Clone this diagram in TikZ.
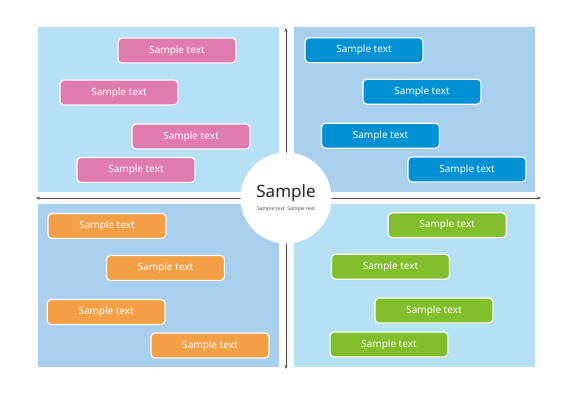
\documentclass[tikz,border=0pt]{standalone}
\usepackage{fontspec}
\setmainfont{Noto Sans}
\usetikzlibrary{shadows,arrows.meta}
\definecolor{panelA}{HTML}{B5E0F5}
\definecolor{panelB}{HTML}{A8D0EE}
\definecolor{pinkbox}{HTML}{E07BAD}
\definecolor{bluebox}{HTML}{0091D5}
\definecolor{orangebox}{HTML}{F29F45}
\definecolor{greenbox}{HTML}{80BE2C}
\definecolor{axisgray}{HTML}{4A4A4A}
\tikzset{
  tbox/.style={draw=white, line width=1.2pt, rounded corners=4pt,
    minimum width=118pt, minimum height=25pt, inner sep=0pt,
    text=white, font=\fontsize{10}{12}\selectfont,
    drop shadow={shadow xshift=0.8pt, shadow yshift=-0.8pt, opacity=0.25}},
  pinkb/.style={tbox, fill=pinkbox},
  blueb/.style={tbox, fill=bluebox},
  orangeb/.style={tbox, fill=orangebox},
  greenb/.style={tbox, fill=greenbox},
  axis/.style={draw=axisgray, line width=0.8pt, <->, >={Stealth[length=4pt,width=3pt]}}
}
\begin{document}
\begin{tikzpicture}[x=1pt,y=-1pt]
\useasboundingbox[fill=white] (0,0) rectangle (567,401);
% panels
\fill[panelA] (38,27) rectangle (279,192);
\fill[panelB] (294,27) rectangle (535,192);
\fill[panelB] (38,204) rectangle (279,367);
\fill[panelA] (294,204) rectangle (535,367);
% axes
\coordinate (L) at (36,198);
\coordinate (R) at (541,198);
\coordinate (T) at (286,28);
\coordinate (B) at (286,369);
\draw[axis] (L) -- (R);
\draw[axis] (T) -- (B);
% centre circle
\node[circle, fill=white, minimum size=91pt, inner sep=0pt] (c) at (286,198) {};
\node[font=\fontsize{17}{19}\selectfont, text=black!85] (title) at (286,193) {Sample};
\node[font=\fontsize{5}{6}\selectfont, text=black!70] (sub) at (286,209) {Sample text\ \ Sample text};
% top-left pink
\node[pinkb] (p1) at (177,50.5) {Sample text};
\node[pinkb] (p2) at (119,92.5) {Sample text};
\node[pinkb] (p3) at (191,136.5) {Sample text};
\node[pinkb] (p4) at (136,170) {Sample text};
% top-right blue
\node[blueb] (b1) at (364,50.3) {Sample text};
\node[blueb] (b2) at (422,91.7) {Sample text};
\node[blueb] (b3) at (380.5,135.7) {Sample text};
\node[blueb] (b4) at (467,169.5) {Sample text};
% bottom-left orange
\node[orangeb] (o1) at (107,226) {Sample text};
\node[orangeb] (o2) at (165.5,268) {Sample text};
\node[orangeb] (o3) at (106.2,312) {Sample text};
\node[orangeb] (o4) at (210,345.5) {Sample text};
% bottom-right green
\node[greenb] (g1) at (447.2,225.3) {Sample text};
\node[greenb] (g2) at (390.5,266.7) {Sample text};
\node[greenb] (g3) at (434,310.5) {Sample text};
\node[greenb] (g4) at (389,344.5) {Sample text};
\end{tikzpicture}
\end{document}
